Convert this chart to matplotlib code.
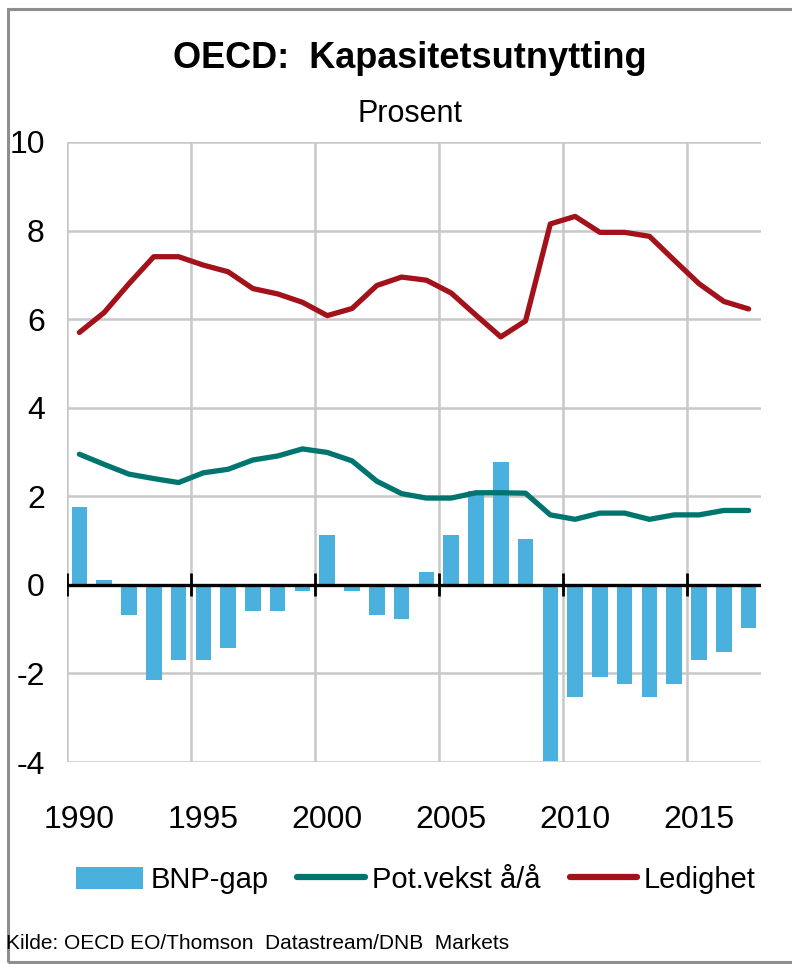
import matplotlib
matplotlib.use("Agg")
from matplotlib import pyplot as plt
from matplotlib.patches import Rectangle, Patch
from matplotlib.lines import Line2D

# 数据
years = list(range(1990, 2018))
bnp_gap = [1.76, 0.11, -0.68, -2.15, -1.70, -1.70, -1.42, -0.60, -0.60, -0.15,
           1.12, -0.15, -0.68, -0.78, 0.30, 1.12, 2.12, 2.77, 1.04, -3.97,
           -2.53, -2.07, -2.25, -2.53, -2.25, -1.70, -1.52, -0.97]
pot_vekst = [2.95, 2.72, 2.50, 2.40, 2.31, 2.53, 2.61, 2.82, 2.91, 3.07,
             2.99, 2.80, 2.34, 2.06, 1.96, 1.96, 2.08, 2.08, 2.07, 1.58,
             1.48, 1.62, 1.62, 1.48, 1.58, 1.58, 1.68, 1.68]
ledighet = [5.70, 6.15, 6.80, 7.41, 7.41, 7.22, 7.07, 6.69, 6.57, 6.38,
            6.08, 6.24, 6.76, 6.95, 6.88, 6.59, 6.09, 5.60, 5.96, 8.15,
            8.32, 7.96, 7.96, 7.87, 7.33, 6.80, 6.40, 6.23]
label_years = [1990, 1995, 2000, 2005, 2010, 2015]
y_ticks = [-4, -2, 0, 2, 4, 6, 8, 10]
series_names = ["BNP-gap", "Pot.vekst å/å", "Ledighet"]

# 颜色 / 字体
c_bar = "#4AB1DF"
c_green = "#007570"
c_red = "#A3121A"
c_grid = "#C8C8C8"
plt.rcParams["font.family"] = ["Liberation Sans", "DejaVu Sans"]

# 图片大小
fig = plt.figure(figsize=(7.92, 9.64), dpi=100)
ax = fig.add_axes([67 / 792, 1 - 762 / 964, (761 - 67) / 792, (762 - 142) / 964])

# 位置: 每年一个类别, 柱子在中间
first = years[0]
pos = [y - first + 0.5 for y in years]

ax.bar(pos, bnp_gap, width=0.63, color=c_bar, zorder=2)
ax.axhline(0, color="black", lw=2.4, zorder=3)
major = [y - first for y in label_years]
ax.vlines(major, -0.26, 0.26, color="black", lw=2.0, zorder=3)
ax.plot(pos, pot_vekst, color=c_green, lw=3.8, solid_capstyle="round",
        solid_joinstyle="round", zorder=4)
ax.plot(pos, ledighet, color=c_red, lw=3.8, solid_capstyle="round",
        solid_joinstyle="round", zorder=4)

ax.set_xlim(0, len(years))
ax.set_ylim(-4, 10)

# 坐标轴
ax.set_xticks(major)
ax.set_xticks([p + 0.5 for p in major], minor=True)
ax.set_xticklabels([])
ax.set_xticklabels([str(y) for y in label_years], minor=True)
ax.tick_params(axis="x", which="both", length=0, pad=31, labelsize=23)
ax.set_yticks(y_ticks)
ax.set_yticklabels([str(v) for v in y_ticks])
ax.tick_params(axis="y", length=0, pad=16, labelsize=23)
ax.grid(True, which="major", color=c_grid, lw=1.8, zorder=0)
ax.set_axisbelow(True)
for s in ax.spines.values():
    s.set_visible(False)

# 标题
fig.text(0.518, 1 - 68 / 964, "OECD:  Kapasitetsutnytting", ha="center",
         va="baseline", fontsize=26, fontweight="bold")
fig.text(0.518, 1 - 122 / 964, "Prosent", ha="center", va="baseline", fontsize=22)

# 图例
handles = [Patch(facecolor=c_bar, edgecolor="none"),
           Line2D([], [], color=c_green, lw=4.5, solid_capstyle="round"),
           Line2D([], [], color=c_red, lw=4.5, solid_capstyle="round")]
fig.legend(handles, series_names, loc="center", bbox_to_anchor=(0.525, 1 - 880 / 964),
           ncol=3, frameon=False, fontsize=21, handlelength=2.3, handleheight=0.8,
           handletextpad=0.25, columnspacing=1.0, borderaxespad=0)

# 来源
fig.text(6 / 792, 1 - 949 / 964, "Kilde: OECD EO/Thomson  Datastream/DNB  Markets",
         ha="left", va="baseline", fontsize=15)

# 边框
fig.patches.append(Rectangle((8 / 792, 2 / 964), 1.2, 1 - 11 / 964, fill=False,
                             edgecolor="#8E8E8E", lw=2.2, transform=fig.transFigure))

# 保存图片
plt.savefig("out.png", dpi=100)
